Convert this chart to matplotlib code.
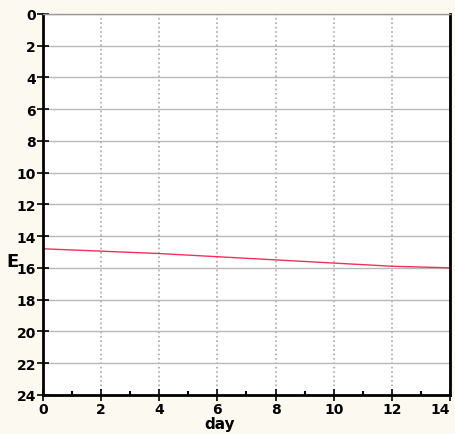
import numpy as np
import matplotlib
matplotlib.use("Agg")
import matplotlib.pyplot as plt

# values
days = [0, 2, 4, 6, 8, 10, 12, 14]
level = [14.8, 14.95, 15.1, 15.3, 15.5, 15.7, 15.9, 16.0]
x_ticks = [0, 2, 4, 6, 8, 10, 12, 14]
y_ticks = [0, 2, 4, 6, 8, 10, 12, 14, 16, 18, 20, 22, 24]

fig = plt.figure(figsize=(4.56, 4.35), dpi=100, facecolor='#fcf9f1')
axis = fig.add_axes([0.094, 0.090, 0.893, 0.876])
axis.set_facecolor('white')

axis.plot(days, level, color='#f0305a', linewidth=1.0)

axis.set_xlim(0, 14)
axis.set_ylim(24, 0)
axis.set_xticks(x_ticks)
axis.set_yticks(y_ticks)
axis.set_xticks(np.arange(0, 15, 1), minor=True)

# horizontal solid, vertical dotted grid
axis.yaxis.grid(True, color='#b8b8b8', linestyle='-', linewidth=1.0)
axis.xaxis.grid(True, color='#a8a8a8', linestyle=':', linewidth=1.2)

for side in ['left', 'bottom', 'right']:
    axis.spines[side].set_linewidth(2.0)
    axis.spines[side].set_color('black')
axis.spines['top'].set_color('#999999')
axis.spines['top'].set_linewidth(1.0)

axis.tick_params(axis='both', which='major', direction='inout', length=8,
                 width=1.2, labelsize=10, pad=1)
axis.tick_params(axis='x', which='minor', direction='in', length=3, width=1.5)
for lab in axis.get_xticklabels() + axis.get_yticklabels():
    lab.set_fontweight('bold')
# keep the last x label inside the figure
axis.get_xticklabels()[-1].set_horizontalalignment('right')

axis.set_xlabel("day", fontsize=11, fontweight='bold', labelpad=0)
axis.xaxis.set_label_coords(0.435, -0.055)
axis.set_ylabel("E", fontsize=13, fontweight='bold', rotation=0, va='center')
axis.yaxis.set_label_coords(-0.075, 0.35)

fig.savefig("out.png", dpi=100, facecolor=fig.get_facecolor())
